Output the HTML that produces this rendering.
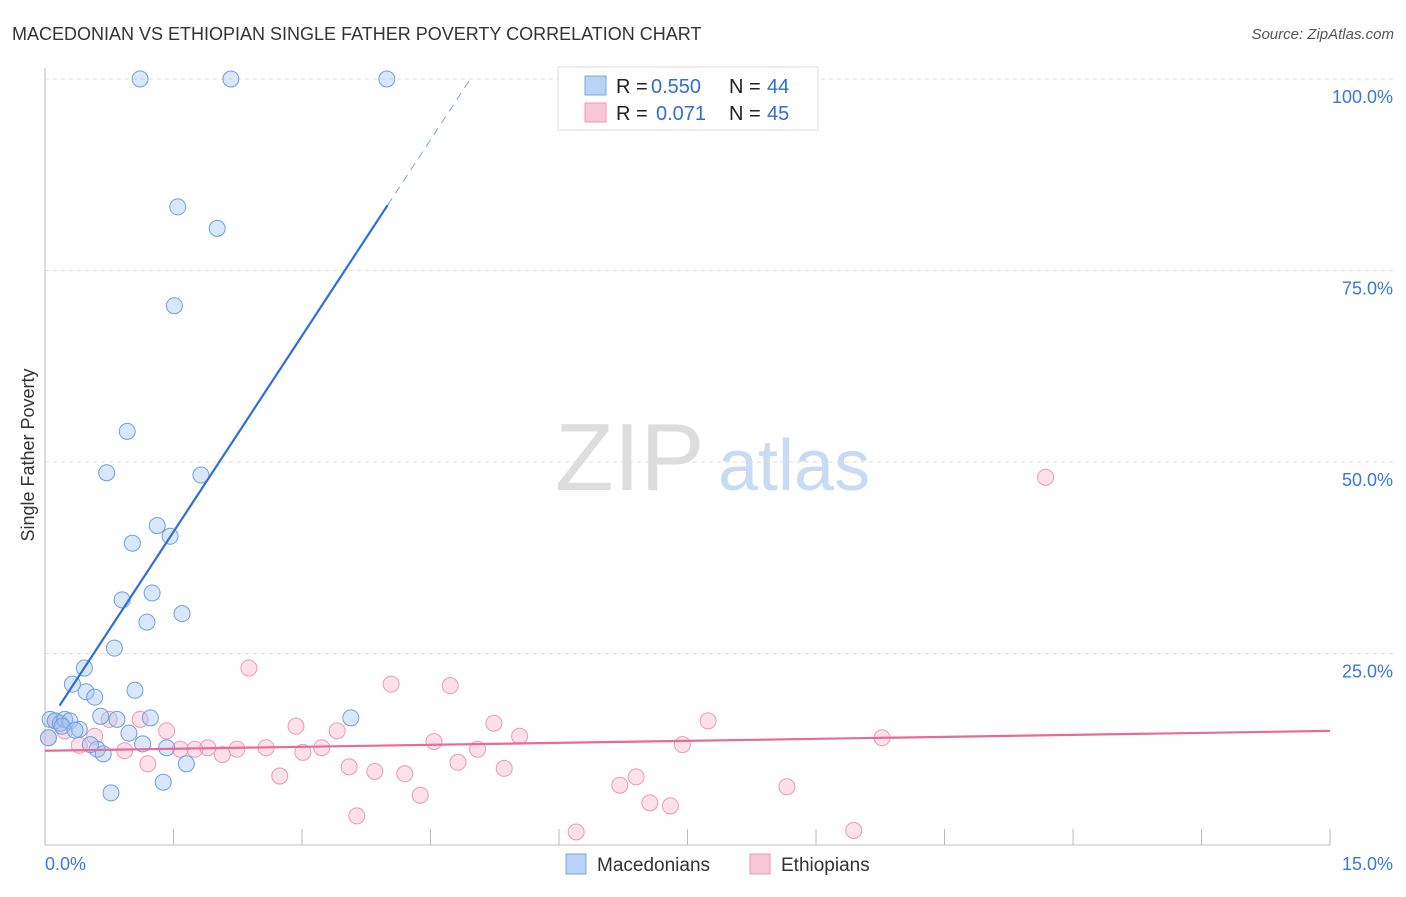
<!DOCTYPE html>
<html><head><meta charset="utf-8"><style>
body{margin:0;background:#fff;font-family:"Liberation Sans",sans-serif}
svg text{font-family:"Liberation Sans",sans-serif}
</style></head><body>
<svg id="c" width="1406" height="892">
<text x="12" y="40" font-size="18" fill="#333">MACEDONIAN VS ETHIOPIAN SINGLE FATHER POVERTY CORRELATION CHART</text>
<text x="1394" y="39" font-size="15" fill="#555" font-style="italic" text-anchor="end">Source: ZipAtlas.com</text>
<text x="555" y="490" font-size="96" fill="#ddd" font-family="Liberation Serif">ZIP</text>
<text x="718" y="490" font-size="72" fill="#c9daf3">atlas</text>
<text x="34" y="455" font-size="18" fill="#333" transform="rotate(-90 34 455)" text-anchor="middle">Single Father Poverty</text>
<g id="grid"></g><g id="pts"></g><g id="lines"></g>
<g>
<rect x="558" y="67" width="260" height="63" fill="#fff" stroke="#ddd"/>
<rect x="585" y="76" width="21" height="19" fill="#b9d3f6" stroke="#7aa6e6"/>
<rect x="585" y="103" width="21" height="19" fill="#f8c6d6" stroke="#ec99b4"/>
<text y="93" font-size="20" fill="#222"><tspan x="616">R = </tspan><tspan x="651" fill="#2f6fd6">0.550</tspan><tspan x="729">N = </tspan><tspan x="767" fill="#2f6fd6">44</tspan></text>
<text y="120" font-size="20" fill="#222"><tspan x="616">R = </tspan><tspan x="656" fill="#2f6fd6">0.071</tspan><tspan x="729">N = </tspan><tspan x="767" fill="#2f6fd6">45</tspan></text>
</g>
<g>
<rect x="566" y="854" width="20" height="20" fill="#b9d3f6" stroke="#7aa6e6"/>
<text x="597" y="871" font-size="19" fill="#333">Macedonians</text>
<rect x="750" y="854" width="20" height="20" fill="#f8c6d6" stroke="#ec99b4"/>
<text x="781" y="871" font-size="19" fill="#333">Ethiopians</text>
</g>
</svg>
<script>
const xTicks=[0,1.5,3,4.5,6,7.5,9,10.5,12,13.5,15];
const yTicks=[25,50,75,100];
const macX=[1.11,2.17,3.99,1.55,2.01,1.51,0.96,0.72,1.82,1.31,1.46,1.02,0.90,1.25,1.60,1.19,0.81,0.46,0.32,0.48,0.58,1.05,0.06,0.12,0.18,0.23,0.29,0.40,0.65,0.84,1.23,0.98,1.14,1.42,0.61,0.68,1.65,1.38,0.77,3.57,0.04,0.20,0.53,0.35];
const macY=[100,100,100,83.3,80.5,70.4,54.0,48.6,48.3,41.7,40.3,39.4,32.0,32.9,30.2,29.1,25.7,23.1,21.0,20.0,19.3,20.2,16.4,16.2,15.9,16.4,16.2,15.1,16.8,16.4,16.6,14.6,13.2,12.7,12.5,11.9,10.6,8.2,6.8,16.6,14.0,15.5,13.1,15.0];
const ethX=[0.04,0.12,0.23,0.40,0.58,0.75,0.93,1.11,1.20,1.42,1.58,1.75,1.90,2.07,2.24,2.38,2.58,2.74,2.93,3.01,3.23,3.41,3.55,3.64,3.85,4.04,4.20,4.38,4.54,4.73,4.82,5.05,5.24,5.36,5.54,6.20,6.71,6.90,7.06,7.30,7.44,7.74,8.66,9.44,9.77,11.68];
const ethY=[14.0,16.2,14.9,13.0,14.2,16.4,12.3,16.4,10.6,14.9,12.5,12.5,12.7,11.8,12.5,23.1,12.7,9.0,15.5,12.1,12.7,14.9,10.2,3.8,9.6,21.0,9.3,6.5,13.5,20.8,10.8,12.5,15.9,10.0,14.2,1.7,7.8,8.9,5.5,5.1,13.1,16.2,7.6,1.9,14.0,48.0];
const macA=15.3, macB=17.06, ethA=12.3, ethB=0.173;
const X=v=>45+v*85.67, Y=v=>845-v*7.66;
const NS='http://www.w3.org/2000/svg';
function mk(t,a,p){const e=document.createElementNS(NS,t);for(const k in a)e.setAttribute(k,a[k]);p.appendChild(e);return e;}
const g=document.getElementById('grid');
const ax=mk('line',{x1:45,y1:845,x2:1330,y2:845,stroke:'#bbb'},g);


const ay=mk('line',{x1:45,y1:68,x2:45,y2:845,stroke:'#bbb'},g);


xTicks.forEach((t,i)=>{if(i>0){const l=mk('line',{x1:X(t),y1:829,x2:X(t),y2:845,stroke:'#bbb'},g);

}});
yTicks.forEach(t=>{const l=mk('line',{x1:45,y1:Y(t),x2:1393,y2:Y(t),stroke:'#ddd','stroke-dasharray':'4 4'},g);


const tx=mk('text',{x:1393,y:Y(t)+24,'font-size':18,fill:'#3a78d8','text-anchor':'end'},g);tx.textContent=t.toFixed(1)+'%';

});
const x0=mk('text',{x:45,y:870,'font-size':18,fill:'#3a78d8'},g);x0.textContent='0.0%';


const x1=mk('text',{x:1393,y:870,'font-size':18,fill:'#3a78d8','text-anchor':'end'},g);x1.textContent='15.0%';


const P=document.getElementById('pts');
ethX.forEach((v,i)=>{const c=mk('circle',{cx:X(v),cy:Y(ethY[i]),r:8,fill:'rgba(245,170,195,0.35)',stroke:'#eb9ab5','stroke-width':1},P);

});
macX.forEach((v,i)=>{const c=mk('circle',{cx:X(v),cy:Y(macY[i]),r:8,fill:'rgba(160,195,240,0.4)',stroke:'#6f9fe0','stroke-width':1},P);

});
const L=document.getElementById('lines');
const xe=(100-macA)/macB;
const b1=mk('line',{x1:X(0.17),y1:Y(macA+macB*0.17),x2:X(4),y2:Y(macA+macB*4),stroke:'#2f6fd6','stroke-width':2.2},L);


const b2=mk('line',{x1:X(4),y1:Y(macA+macB*4),x2:X(xe),y2:Y(100),stroke:'#7aa6e6','stroke-width':1,'stroke-dasharray':'8 6'},L);


const p1=mk('line',{x1:X(0),y1:Y(ethA),x2:X(15),y2:Y(ethA+ethB*15),stroke:'#e8699a','stroke-width':2.2},L);


</script>
</body></html>
